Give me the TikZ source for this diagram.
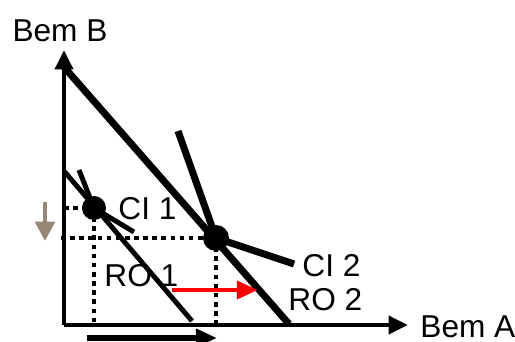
\documentclass[tikz,border=0pt]{standalone}
\usepackage{fontspec}
\setmainfont{Liberation Sans}
\usetikzlibrary{arrows.meta}
\definecolor{shiftbrown}{RGB}{150,134,116}

\begin{document}
\begin{tikzpicture}[x=0.02cm, y=-0.02cm, line width=2.8pt,
  axis/.style={-{Triangle[length=11pt,width=10pt]}},
  shiftarrow/.style={-{Triangle[length=12pt,width=10pt]}},
  guide/.style={line width=2.2pt, dash pattern=on 2.6pt off 2.6pt},
  lbl/.style={font=\fontsize{18}{18}\selectfont, inner sep=0pt}]
			\useasboundingbox (0,0) rectangle (515,342);
			% axes
			\coordinate (O) at (64,325);
			\coordinate (ytop) at (64,50);
			\coordinate (xend) at (408,325);
			\draw [axis] (O) -- (ytop);
			\draw [axis] (O) -- (xend);
			\node[lbl] (bemB) at (60,31) {Bem B};
			\node[lbl, anchor=west] (bemA) at (418,327) {Bem A};
			% equilibrium points
			\coordinate (e1) at (94,208);
			\coordinate (e2) at (216,238);
			% guides
			\draw [guide] (O |- e1) -- (e1);
			\draw [guide] (61,238) -- (e2);
			\draw [guide] (e1) -- (e1 |- O);
			\draw [guide] (e2) -- (e2 |- O);
			% budget lines
			\draw (64,171) -- (192,321);
			\draw [line width=4pt] (64,67) -- (289,324);
			% indifference curves
			\draw (79,170) -- (e1) -- (134,232);
			\draw [line width=4pt] (178,131) -- (e2) -- (294,264);
			\fill (e1) circle (12);
			\fill (e2) circle (13);
			% labels
			\node[lbl, anchor=west] (ci1) at (116,209) {CI 1};
			\node[lbl, anchor=west] (ro1) at (102,276) {RO 1};
			\node[lbl, anchor=west] (ci2) at (300,266) {CI 2};
			\node[lbl, anchor=west] (ro2) at (286,300) {RO 2};
			% shifts
			\draw [shiftarrow, draw=red, fill=red] (172,290) -- (258,290);
			\draw [shiftarrow, line width=3.2pt] (87,338) -- (217,338);
			\draw [line width=2.6pt, draw=shiftbrown, fill=shiftbrown,
			  -{Triangle[length=11pt,width=11pt]}] (45,202) -- (45,241);
\end{tikzpicture}
\end{document}
